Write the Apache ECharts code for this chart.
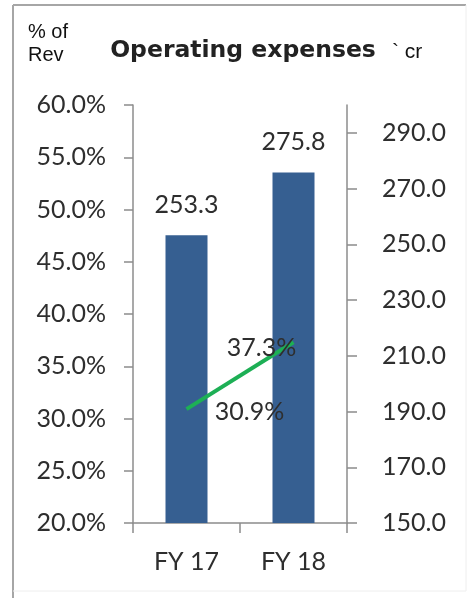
<!DOCTYPE html>
<html>
<head>
<meta charset="utf-8">
<script src="https://cdn.jsdelivr.net/npm/echarts@6/dist/echarts.min.js"></script>
<style>
html,body{margin:0;padding:0;background:#fff;}
#c{width:470px;height:598px;}
</style>
</head>
<body>
<div id="c"></div>
<script>
var categories = ['FY 17', 'FY 18'];
var opexValues = [253.3, 275.8];          // ` cr (right axis, bars)
var pctOfRevValues = [30.9, 37.3];        // % of Rev (left axis, line)
var leftTicks = [20, 25, 30, 35, 40, 45, 50, 55, 60];
var rightTicks = [150, 170, 190, 210, 230, 250, 270, 290];
var titleText = 'Operating expenses';
var leftUnit = ['% of', 'Rev'];
var rightUnit = '` cr';

var FONT = 'Lato';
var TXT = '#2e2e2e';
var AX = '#8c8c8c';

var chart = echarts.init(document.getElementById('c'), null, {renderer: 'canvas'});
chart.setOption({
  backgroundColor: '#ffffff',
  animation: false,
  grid: {left: 133, right: 123, top: 105, bottom: 75},
  xAxis: {
    type: 'category',
    data: categories,
    boundaryGap: true,
    axisLine: {lineStyle: {color: AX, width: 1.5}},
    axisTick: {show: true, length: 10, lineStyle: {color: AX, width: 1.5}},
    axisLabel: {color: TXT, fontFamily: FONT, fontSize: 25, margin: 26}
  },
  yAxis: [
    {
      type: 'value', position: 'left', min: leftTicks[0], max: leftTicks[leftTicks.length - 1], interval: 5,
      splitLine: {show: false},
      axisLine: {show: true, lineStyle: {color: AX, width: 1.5}},
      axisTick: {show: true, length: 9, lineStyle: {color: AX, width: 1.5}},
      axisLabel: {color: TXT, fontFamily: FONT, fontSize: 25, margin: 27,
        formatter: function (v) { return v.toFixed(1) + '%'; }}
    },
    {
      type: 'value', position: 'right', min: 150, max: 300, interval: 10,
      splitLine: {show: false},
      axisLine: {show: true, lineStyle: {color: AX, width: 1.5}},
      axisTick: {show: true, length: 10, customValues: rightTicks, lineStyle: {color: AX, width: 1.5}},
      axisLabel: {color: TXT, fontFamily: FONT, fontSize: 25, margin: 35, customValues: rightTicks,
        formatter: function (v) { return v.toFixed(1); }}
    }
  ],
  series: [
    {
      type: 'bar', yAxisIndex: 1, data: opexValues, barWidth: 42,
      itemStyle: {color: '#365F91'},
      label: {show: true, position: 'top', distance: 18, color: TXT, fontFamily: FONT, fontSize: 25,
        formatter: function (p) { return p.value.toFixed(1); }}
    },
    {
      type: 'line', yAxisIndex: 0, z: 5,
      data: [
        {value: pctOfRevValues[0], label: {offset: [63, 3]}},
        {value: pctOfRevValues[1], label: {offset: [-32, 6]}}
      ],
      symbol: 'circle', symbolSize: 1, showSymbol: true,
      itemStyle: {color: 'rgba(0,0,0,0)'},
      lineStyle: {color: '#1DAF55', width: 4},
      label: {show: true, position: 'inside', color: TXT, fontFamily: FONT, fontSize: 25,
        formatter: function (p) { return p.value.toFixed(1) + '%'; }}
    }
  ],
  graphic: [
    {type: 'line', shape: {x1: 13, y1: 5, x2: 466, y2: 5}, style: {stroke: '#a6a6a6', lineWidth: 2}, silent: true},
    {type: 'line', shape: {x1: 13, y1: 5, x2: 13, y2: 598}, style: {stroke: '#a6a6a6', lineWidth: 2}, silent: true},
    {type: 'line', shape: {x1: 466, y1: 5, x2: 466, y2: 591}, style: {stroke: '#eeeeee', lineWidth: 1}, silent: true},
    {type: 'line', shape: {x1: 13, y1: 591, x2: 466, y2: 591}, style: {stroke: '#eeeeee', lineWidth: 1}, silent: true},
    {type: 'text', x: 28, y: 32, style: {text: leftUnit[0], font: '20px "Liberation Sans"', fill: '#111', verticalAlign: 'middle'}},
    {type: 'text', x: 28, y: 55, style: {text: leftUnit[1], font: '20px "Liberation Sans"', fill: '#111', verticalAlign: 'middle'}},
    {type: 'text', x: 243, y: 51, style: {text: titleText, font: 'bold 23.5px "DejaVu Sans"', fill: '#222', align: 'center', verticalAlign: 'middle'}},
    {type: 'text', x: 392, y: 52, style: {text: rightUnit, font: '21px "Liberation Sans"', fill: '#111', verticalAlign: 'middle'}}
  ]
});
</script>
</body>
</html>
